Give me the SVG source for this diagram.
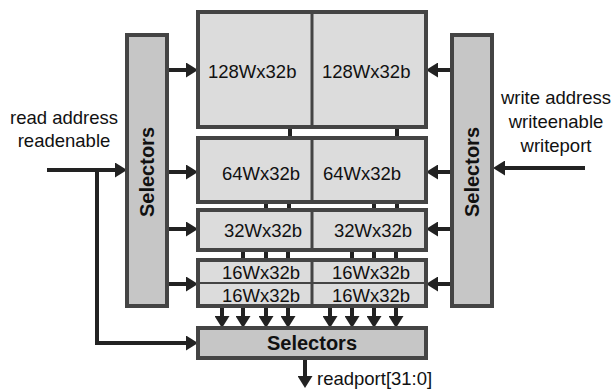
<svg xmlns="http://www.w3.org/2000/svg" width="614" height="389" viewBox="0 0 614 389">
<style>
.blk{fill:#dcdcdc;stroke:#444;stroke-width:4}
.sel{fill:#c6c6c6;stroke:#444;stroke-width:4}
.div{stroke:#444;stroke-width:3;fill:none}
.t{font-family:"Liberation Sans",Arial,sans-serif;font-size:18.5px;fill:#111}
.b{font-family:"Liberation Sans",Arial,sans-serif;font-size:20px;font-weight:bold;fill:#111;text-anchor:middle}
.c{stroke:#222;stroke-width:4;fill:none}
.a{marker-end:url(#ah)}
</style>
<defs>
<marker id="ah" viewBox="0 0 12 15" refX="1" refY="7.5" markerWidth="12" markerHeight="15" markerUnits="userSpaceOnUse" orient="auto">
<path d="M0,0 L12,7.5 L0,15 z" fill="#222"/>
</marker>
</defs>
<g id="connectors">
<line class="c" x1="290" y1="127" x2="290" y2="138"/>
<line class="c" x1="397" y1="127" x2="397" y2="138"/>
<line class="c" x1="266" y1="202" x2="266" y2="210"/>
<line class="c" x1="289" y1="202" x2="289" y2="210"/>
<line class="c" x1="374" y1="202" x2="374" y2="210"/>
<line class="c" x1="397" y1="202" x2="397" y2="210"/>
<line class="c" x1="243" y1="250" x2="243" y2="260"/>
<line class="c" x1="266" y1="250" x2="266" y2="260"/>
<line class="c" x1="288" y1="250" x2="288" y2="260"/>
<line class="c" x1="352" y1="250" x2="352" y2="260"/>
<line class="c" x1="374" y1="250" x2="374" y2="260"/>
<line class="c" x1="396" y1="250" x2="396" y2="260"/>
<line class="c a" x1="167" y1="70" x2="187" y2="70"/>
<line class="c a" x1="167" y1="172" x2="187" y2="172"/>
<line class="c a" x1="167" y1="229" x2="187" y2="229"/>
<line class="c a" x1="167" y1="284" x2="187" y2="284"/>
<line class="c a" x1="452" y1="70" x2="437" y2="70"/>
<line class="c a" x1="452" y1="172" x2="437" y2="172"/>
<line class="c a" x1="452" y1="229" x2="437" y2="229"/>
<line class="c a" x1="452" y1="284" x2="437" y2="284"/>
<line class="c a" x1="222" y1="306" x2="222" y2="317"/>
<line class="c a" x1="243" y1="306" x2="243" y2="317"/>
<line class="c a" x1="266" y1="306" x2="266" y2="317"/>
<line class="c a" x1="288" y1="306" x2="288" y2="317"/>
<line class="c a" x1="330" y1="306" x2="330" y2="317"/>
<line class="c a" x1="352" y1="306" x2="352" y2="317"/>
<line class="c a" x1="374" y1="306" x2="374" y2="317"/>
<line class="c a" x1="396" y1="306" x2="396" y2="317"/>
<line class="c a" x1="47" y1="170" x2="116" y2="170"/>
<path class="c a" d="M97,170 V343 H187"/>
<line class="c a" x1="585" y1="168" x2="504" y2="168"/>
<line class="c a" x1="305" y1="358" x2="305" y2="377"/>
</g>
<g id="left-selectors">
<rect class="sel" x="127" y="35" width="40" height="271"/>
<text class="b" transform="translate(154,172) rotate(-90)">Selectors</text>
</g>
<g id="right-selectors">
<rect class="sel" x="452" y="35" width="40" height="271"/>
<text class="b" transform="translate(479,172) rotate(-90)">Selectors</text>
</g>
<g id="mem128">
<rect class="blk" x="198" y="12" width="228" height="115"/>
<line class="div" x1="312" y1="12" x2="312" y2="127"/>
<text class="t" x="208" y="78">128Wx32b</text>
<text class="t" x="322" y="78">128Wx32b</text>
</g>
<g id="mem64">
<rect class="blk" x="198" y="138" width="228" height="64"/>
<line class="div" x1="312" y1="138" x2="312" y2="202"/>
<text class="t" x="222" y="180">64Wx32b</text>
<text class="t" x="323" y="180">64Wx32b</text>
</g>
<g id="mem32">
<rect class="blk" x="198" y="210" width="228" height="40"/>
<line class="div" x1="312" y1="210" x2="312" y2="250"/>
<text class="t" x="224" y="237">32Wx32b</text>
<text class="t" x="334" y="237">32Wx32b</text>
</g>
<g id="mem16">
<rect class="blk" x="198" y="260" width="228" height="46"/>
<line class="div" x1="312" y1="260" x2="312" y2="306"/>
<line class="div" x1="198" y1="283" x2="426" y2="283" style="stroke-width:2"/>
<text class="t" x="222" y="279">16Wx32b</text>
<text class="t" x="332" y="279">16Wx32b</text>
<text class="t" x="222" y="302">16Wx32b</text>
<text class="t" x="332" y="302">16Wx32b</text>
</g>
<g id="bottom-selectors">
<rect class="sel" x="198" y="328" width="228" height="30"/>
<text class="b" x="312" y="350">Selectors</text>
</g>
<g id="labels">
<text class="t" x="64" y="124" text-anchor="middle">read address</text>
<text class="t" x="64" y="147" text-anchor="middle">readenable</text>
<text class="t" x="556" y="104" text-anchor="middle">write address</text>
<text class="t" x="556" y="128" text-anchor="middle">writeenable</text>
<text class="t" x="556" y="152" text-anchor="middle">writeport</text>
<text class="t" x="317" y="385">readport[31:0]</text>
</g>
</svg>
